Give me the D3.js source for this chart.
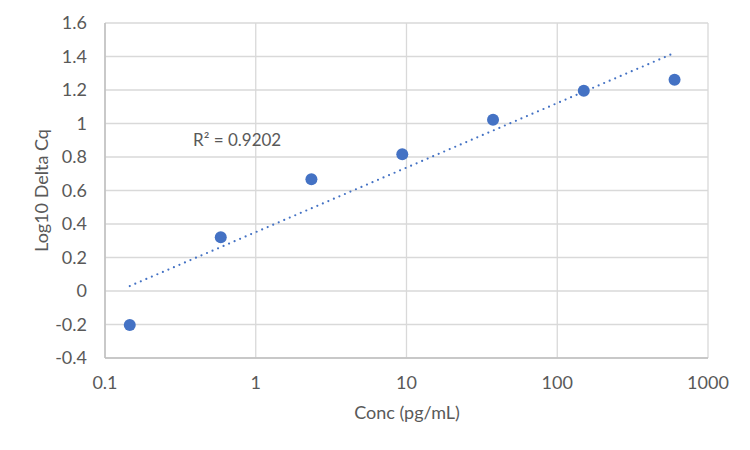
<!DOCTYPE html>
<html lang="en">
<head>
  <meta charset="UTF-8">
  <title>Log10 Delta Cq</title>
  <script src="https://cdn.jsdelivr.net/npm/d3@7"></script>
  <style>
    body { margin: 0; background: #fff; }
    text { font-family: Lato, "Open Sans", sans-serif; fill: #595959; }
    .grid line { stroke: #d9d9d9; stroke-width: 1.3; }
    .trend { fill: none; stroke: #4472c4; stroke-width: 2.2; stroke-dasharray: 0 6; stroke-linecap: round; }
    .pt { fill: #4472c4; }
  </style>
</head>
<body>
<svg></svg>
<script>
  // data
  var conc = [0.146, 0.586, 2.34, 9.375, 37.5, 150, 600];
  var logDelta = [-0.203, 0.321, 0.667, 0.817, 1.022, 1.195, 1.261];
  var xTicks = [0.1, 1, 10, 100, 1000];
  var yTicks = [-0.4, -0.2, 0, 0.2, 0.4, 0.6, 0.8, 1, 1.2, 1.4, 1.6];
  var r2Label = "R² = 0.9202";

  var W = 750, H = 450,
    m = { left: 105, top: 23, right: 42, bottom: 92 },
    svg = d3.select("svg").attr("width", W).attr("height", H),
    fs = 18;

  var x = d3.scaleLog().domain([0.1, 1000]).range([m.left, W - m.right]),
    y = d3.scaleLinear().domain([-0.4, 1.6]).range([H - m.bottom, m.top]);

  var grid = svg.append("g").attr("class", "grid");
  grid.selectAll("line.h").data(yTicks).enter().append("line")
    .attr("x1", m.left).attr("x2", W - m.right)
    .attr("y1", d => y(d)).attr("y2", d => y(d));
  grid.selectAll("line.v").data(xTicks).enter().append("line")
    .attr("y1", m.top).attr("y2", H - m.bottom)
    .attr("x1", d => x(d)).attr("x2", d => x(d));

  // axis lines
  svg.append("line").attr("x1", m.left).attr("x2", m.left)
    .attr("y1", m.top).attr("y2", H - m.bottom)
    .attr("stroke", "#bfbfbf").attr("stroke-width", 1.5);
  svg.append("line").attr("x1", m.left).attr("x2", W - m.right)
    .attr("y1", H - m.bottom).attr("y2", H - m.bottom)
    .attr("stroke", "#bfbfbf").attr("stroke-width", 1.5);

  svg.selectAll("text.yt").data(yTicks).enter().append("text")
    .attr("class", "yt")
    .attr("x", 87).attr("y", d => y(d)).attr("dy", "0.35em")
    .attr("text-anchor", "end").attr("font-size", fs)
    .text(d => String(Math.round(d * 10) / 10));

  svg.selectAll("text.xt").data(xTicks).enter().append("text")
    .attr("class", "xt")
    .attr("x", d => x(d)).attr("y", 389)
    .attr("text-anchor", "middle").attr("font-size", fs)
    .text(d => String(d));

  svg.append("text").attr("x", 407).attr("y", 419)
    .attr("text-anchor", "middle").attr("font-size", fs)
    .text("Conc (pg/mL)");

  svg.append("text")
    .attr("transform", "translate(48," + ((m.top + H - m.bottom) / 2) + ")rotate(-90)")
    .attr("text-anchor", "middle").attr("font-size", fs)
    .text("Log10 Delta Cq");

  // log-linear trendline fitted to the points
  var lx = conc.map(Math.log10),
    mx = d3.mean(lx), my = d3.mean(logDelta),
    sxy = d3.sum(lx, (v, i) => (v - mx) * (logDelta[i] - my)),
    sxx = d3.sum(lx, v => (v - mx) * (v - mx)),
    b = sxy / sxx, a = my - b * mx;
  var x0 = d3.min(conc), x1 = d3.max(conc);
  svg.append("path").attr("class", "trend")
    .attr("d", d3.line()([[x(x0), y(a + b * Math.log10(x0))], [x(x1), y(a + b * Math.log10(x1))]]));

  svg.selectAll("circle.pt").data(conc).enter().append("circle")
    .attr("class", "pt")
    .attr("cx", d => x(d)).attr("cy", (d, i) => y(logDelta[i]))
    .attr("r", 6);

  svg.append("text").attr("x", 193).attr("y", 146)
    .attr("font-size", 17).text(r2Label);
</script>
</body>
</html>
